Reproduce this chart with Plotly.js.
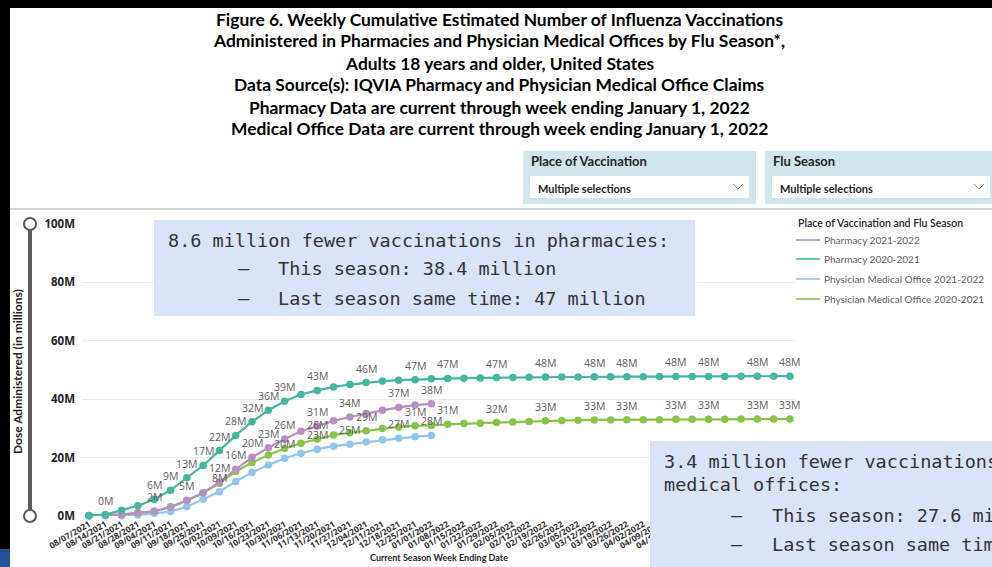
<!DOCTYPE html>
<html>
<head>
<meta charset="utf-8">
<script src="https://cdn.plot.ly/plotly-3.0.1.min.js"></script>
<style>html,body{margin:0;padding:0;background:#fff;}#chart{width:992px;height:567px;}</style>
</head>
<body>
<div id="chart"></div>
<script>
// ---- DATA ----
const weeks = ['08/07/2021','08/14/2021','08/21/2021','08/28/2021','09/04/2021','09/11/2021','09/18/2021','09/25/2021',
  '10/02/2021','10/09/2021','10/16/2021','10/23/2021','10/30/2021','11/06/2021','11/13/2021','11/20/2021','11/27/2021',
  '12/04/2021','12/11/2021','12/18/2021','12/25/2021','01/01/2022','01/08/2022','01/15/2022','01/22/2022','01/29/2022',
  '02/05/2022','02/12/2022','02/19/2022','02/26/2022','03/05/2022','03/12/2022','03/19/2022','03/26/2022','04/02/2022',
  '04/09/2022','04/16/2022','04/23/2022','04/30/2022','05/07/2022','05/14/2022','05/21/2022','05/28/2022','06/04/2022'];

const pharmacy2122 = [0.1,0.2,0.5,1.0,1.7,3.0,5.2,8.0,11.6,16.0,20.1,23.4,26.4,29.0,30.8,32.6,33.9,35.1,36.2,37.2,38.0,38.4];
const pharmacy2021 = [0.2,0.4,2.0,3.5,5.7,8.8,13.1,17.3,22.4,27.6,32.3,36.2,39.3,41.6,43.0,44.2,45.0,45.7,46.2,46.5,46.7,47.0,
  47.1,47.2,47.3,47.4,47.4,47.5,47.6,47.6,47.6,47.7,47.7,47.7,47.7,47.8,47.8,47.8,47.8,47.8,47.9,47.9,47.9,47.9];
const physician2122 = [0.0,0.1,0.1,0.3,0.9,1.5,3.2,5.7,8.3,11.8,14.9,17.5,19.8,21.5,22.9,23.9,24.6,25.3,26.1,26.6,27.1,27.6];
const physician2021 = [0.2,0.4,0.6,1.1,1.5,3.2,5.4,7.9,11.2,15.2,18.3,20.9,23.1,24.9,26.4,27.7,28.5,29.2,30.0,30.5,30.9,31.0,
  31.4,31.7,31.8,32.0,32.2,32.4,32.6,32.7,32.8,32.9,32.9,33.0,33.0,33.0,33.1,33.1,33.1,33.1,33.2,33.2,33.2,33.2];

// indices of points that carry a data label
const labelsPharmacy2122 = [4,8,9,10,11,12,14,16,19,21];
const labelsPharmacy2021 = [1,4,5,6,7,8,9,10,11,12,14,17,20,22,25,28,31,33,36,38,41,43];
const labelsPhysician2122 = [8,12,14,16,19,21];
const labelsPhysician2021 = [6,14,17,20,22,25,28,31,33,36,38,41,43];

const yTicks = [0,20,40,60,80,100];
const yTickText = ['0M','20M','40M','60M','80M','100M'];

const seriesNames = ['Pharmacy 2021-2022','Pharmacy 2020-2021','Physician Medical Office 2021-2022','Physician Medical Office 2020-2021'];
const seriesColors = ['#b88fc4','#45b7a0','#8fc7ec','#8bc34a'];

// ---- helpers ----
const W = 992, H = 567;
const px = v => v / W;
const py = v => 1 - v / H;

const shapes = [];
const annotations = [];

function series(vals, color){
  return {
    type:'scatter', mode:'lines+markers',
    x: weeks.slice(0, vals.length), y: vals,
    line:{color:color, width:2.2}, marker:{color:color, size:7.5},
    cliponaxis:false, showlegend:false, hoverinfo:'skip'
  };
}
function dataLabels(vals, idx){
  idx.forEach(i=>{
    annotations.push({xref:'x', yref:'y', x:weeks[i], y:vals[i], text:Math.round(vals[i])+'M',
      showarrow:false, yshift:14, xanchor:'center', yanchor:'middle',
      font:{family:'Open Sans', size:10.5, color:'#605e5c'}});
  });
}

const traces = [
  series(physician2122, seriesColors[2]),
  series(physician2021, seriesColors[3]),
  series(pharmacy2122, seriesColors[0]),
  series(pharmacy2021, seriesColors[1])
];
dataLabels(physician2122, labelsPhysician2122);
dataLabels(physician2021, labelsPhysician2021);
dataLabels(pharmacy2122, labelsPharmacy2122);
dataLabels(pharmacy2021, labelsPharmacy2021);

function rect(x0,y0,x1,y1,fill,line){
  shapes.push({type:'rect', xref:'paper', yref:'paper', x0:px(x0), x1:px(x1), y0:py(y1), y1:py(y0),
    fillcolor:fill, line:line||{width:0}, layer:'above'});
}
function seg(x0,y0,x1,y1,color,w){
  shapes.push({type:'line', xref:'paper', yref:'paper', x0:px(x0), x1:px(x1), y0:py(y0), y1:py(y1),
    line:{color:color, width:w}, layer:'above'});
}
function ann(text,x,y,o){
  o = o||{};
  annotations.push({text:text, xref:'paper', yref:'paper', x:px(x), y:py(y), showarrow:false,
    xanchor:o.xanchor||'left', yanchor:'middle', textangle:o.angle||0,
    font:{family:o.family||'Lato', size:o.size||10, color:o.color||'#252423', weight:o.weight||'normal'}});
}

// frame bits
rect(0,0,992,8,'#000');
rect(0,0,10,549,'#000');
rect(0,549,10,567,'#24509a');
seg(10,209,992,209,'#c8c8c8',1.5);

// title lines
const titleLines = ['Figure 6. Weekly Cumulative Estimated Number of Influenza Vaccinations',
  'Administered in Pharmacies and Physician Medical Offices by Flu Season*,',
  'Adults 18 years and older, United States',
  'Data Source(s): IQVIA Pharmacy and Physician Medical Office Claims',
  'Pharmacy Data are current through week ending January 1, 2022',
  'Medical Office Data are current through week ending January 1, 2022'];
titleLines.forEach((t,i)=>ann(t,499,19+i*22,{xanchor:'center', size:17.4, weight:'bold', color:'#000'}));

// slicers
function slicer(x0,x1,title){
  rect(x0,151,x1,204,'#d0e6eb');
  ann(title,x0+6,161,{size:13, weight:'bold', color:'#252423'});
  rect(x0+7,176,x1-7,198,'#ffffff');
  ann('Multiple selections',x0+13,188,{size:11, weight:'bold', color:'#252423'});
  const cx = x1-18;
  shapes.push({type:'path', xref:'paper', yref:'paper', layer:'above',
    path:`M ${px(cx-5)} ${py(184)} L ${px(cx)} ${py(189)} L ${px(cx+5)} ${py(184)}`,
    line:{color:'#8a8886', width:1}});
}
slicer(523,756,'Place of Vaccination');
slicer(765,997,'Flu Season');

// y slider
seg(30,224,30,516,'#5a5a5a',4);
[224,516].forEach(cy=>{
  shapes.push({type:'circle', xref:'paper', yref:'paper', layer:'above',
    x0:px(24), x1:px(36), y0:py(cy+6), y1:py(cy-6), fillcolor:'#ffffff', line:{color:'#5a5a5a', width:2}});
});
ann('Dose Administered (in millions)',17,372,{xanchor:'center', angle:-90, size:12, weight:'bold', color:'#252423'});
ann('Current Season Week Ending Date',439,557,{xanchor:'center', size:9, weight:'bold', color:'#252423'});

// legend
ann('Place of Vaccination and Flu Season',796,223,{size:10.5, weight:'600', color:'#252423'});
[0,1,2,3].forEach((k,i)=>{
  const yy = [240,259,279,299][i];
  seg(796,yy,820,yy,seriesColors[k],1.6);
  ann(seriesNames[k],822,yy,{size:10, color:'#605e5c'});
});

// text boxes
const mono = 'DejaVu Sans Mono';
rect(154,220,695,316,'#dae3f8');
ann('8.6 million fewer vaccinations in pharmacies:',166,240,{family:mono, size:18.5, color:'#333'});
ann('–',236,269,{family:mono, size:18.5, color:'#333'});
ann('This season: 38.4 million',276,269,{family:mono, size:18.5, color:'#333'});
ann('–',236,298,{family:mono, size:18.5, color:'#333'});
ann('Last season same time: 47 million',276,298,{family:mono, size:18.5, color:'#333'});

rect(650,441,1000,575,'#dae3f8');
ann('3.4 million fewer vaccinations in',662,461,{family:mono, size:18.5, color:'#333'});
ann('medical offices:',662,484,{family:mono, size:18.5, color:'#333'});
ann('–',729,515,{family:mono, size:18.5, color:'#333'});
ann('This season: 27.6 million',770,515,{family:mono, size:18.5, color:'#333'});
ann('–',729,544,{family:mono, size:18.5, color:'#333'});
ann('Last season same time: 31 million',770,544,{family:mono, size:18.5, color:'#333'});

const layout = {
  width:W, height:H, margin:{l:0,r:0,t:0,b:0},
  paper_bgcolor:'#ffffff', plot_bgcolor:'#ffffff', showlegend:false,
  xaxis:{type:'category', domain:[px(82), px(796)], range:[-0.43, 43.37], dtick:1, tickangle:-30,
    showgrid:false, zeroline:false, showline:false, ticks:'', ticklabelstandoff:1,
    tickfont:{family:'Open Sans', size:8.5, color:'#333', weight:'bold'}, fixedrange:true},
  yaxis:{domain:[py(516), py(224)], range:[0,100], tickmode:'array', tickvals:yTicks, ticktext:yTickText,
    showgrid:true, gridcolor:'#ebebeb', gridwidth:1, zeroline:false, showline:false, ticks:'',
    ticklabelstandoff:6, tickfont:{family:'Open Sans', size:11.5, color:'#252423', weight:'bold'}, fixedrange:true},
  shapes:shapes, annotations:annotations
};

Plotly.newPlot('chart', traces, layout, {staticPlot:true, displayModeBar:false});
</script>
</body>
</html>
